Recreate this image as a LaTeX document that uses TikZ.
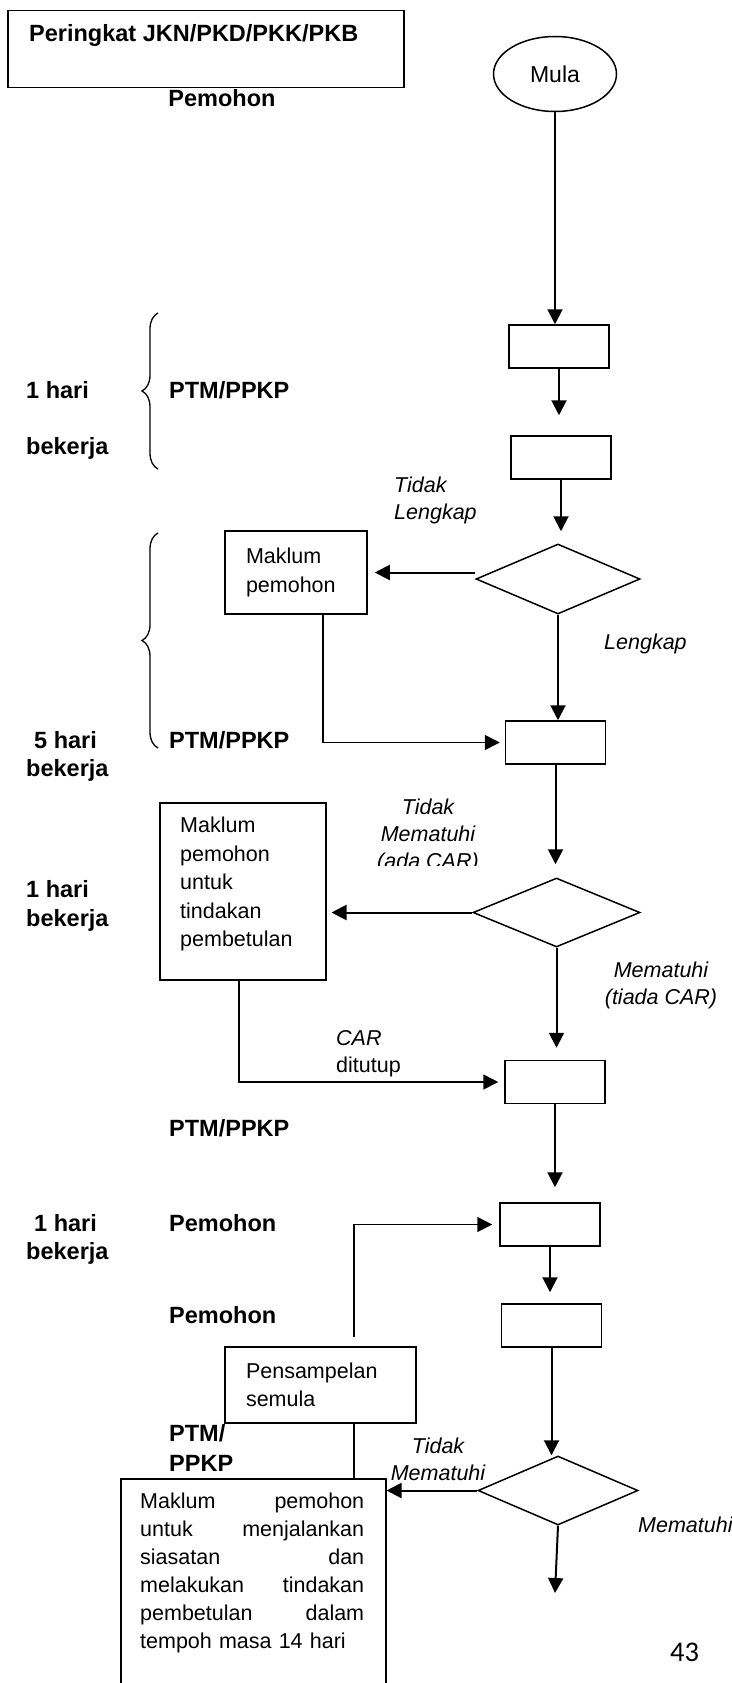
\documentclass[tikz,border=0pt]{standalone}
\usepackage{fontspec}
\setmainfont{Liberation Sans}
\newfontfamily\pagefont{Carlito}
\usetikzlibrary{arrows.meta,shapes.geometric,decorations.pathreplacing}

\begin{document}
\begin{tikzpicture}[x=1pt,y=-1pt,
    kotak/.style={draw,line width=1.5pt,inner sep=0pt},
    langkah/.style={kotak,minimum width=100pt,minimum height=43pt},
    semak/.style={kotak,diamond,aspect=2.3,minimum width=164pt,minimum height=70pt},
    teks/.style={kotak,align=left,inner xsep=21pt,font=\fontsize{21.5}{28.5}\selectfont},
    miring/.style={font=\fontsize{21.5}{27}\selectfont\itshape,inner sep=0pt},
    tebal/.style={font=\fontsize{23.5}{30}\selectfont\bfseries,inner sep=0pt,anchor=west},
    anak/.style={-{Triangle[length=15pt,width=15pt]},line width=2pt},
    garis/.style={line width=1.5pt},
    kurung/.style={decorate,decoration={brace,amplitude=16pt},line width=1.3pt}]
    \clip (0,0) rectangle (731,1683);
    \node[kotak,anchor=north west,minimum width=396pt,minimum height=77pt] (tajuk) at (7,10) {};
    \node[tebal] (tajukteks) at (29,35) {Peringkat JKN/PKD/PKK/PKB};
    \node[tebal,anchor=center] (pemohonA) at (222,98) {Pemohon};
    \node[kotak,ellipse,minimum width=123pt,minimum height=75pt,font=\fontsize{23}{26}\selectfont] (mula) at (555,74) {Mula};
    \node[langkah] (langkahA) at (559,346.5) {};
    \node[langkah] (langkahB) at (561,457.5) {};
    \node[semak] (semakA) at (558,579) {};
    \node[langkah] (langkahC) at (555.5,742.5) {};
    \node[semak,minimum width=167pt,minimum height=69pt] (semakB) at (556.5,912.5) {};
    \node[langkah] (langkahD) at (555,1082) {};
    \node[langkah] (langkahE) at (550,1224.5) {};
    \node[langkah] (langkahF) at (551.5,1325.5) {};
    \node[semak,minimum width=160pt,minimum height=69pt] (semakC) at (558,1490.5) {};
    \coordinate (akhir) at (555,1593);
    \node[teks,minimum width=142pt,minimum height=83pt,text width=100pt] (maklumA) at (296,572.5) {Maklum\\pemohon};
    \node[kotak,anchor=north west,minimum width=166pt,minimum height=177pt] (maklumB) at (159,802) {};
    \node[anchor=north west,inner sep=0pt,text width=124pt,align=left,font=\fontsize{21.5}{28.5}\selectfont] (maklumBteks) at (180,817) {Maklum\\pemohon\\untuk\\tindakan\\pembetulan};
    \node[teks,minimum width=191pt,minimum height=76pt,text width=149pt] (pensampelan) at (320.5,1385) {Pensampelan\\semula};
    \node[kotak,anchor=north west,minimum width=265pt,minimum height=240pt] (maklumC) at (120,1478) {};
    \node[anchor=north west,inner sep=0pt,text width=224pt,align=left,font=\fontsize{21.5}{28}\selectfont] (maklumCteks) at (140,1493) {Maklum\hfill pemohon\\untuk\hfill menjalankan\\siasatan\hfill dan\\melakukan\hfill tindakan\\pembetulan\hfill dalam\\tempoh masa 14 hari};
    \node[tebal] (hariA) at (26,390) {1 hari};
    \node[tebal] (kerjaA) at (26,448) {bekerja};
    \node[tebal] (ptmA) at (169,390) {PTM/PPKP};
    \draw[kurung] (158,469) -- (158,313);
    \node[tebal] (hariB) at (34,740) {5 hari};
    \node[tebal] (kerjaB) at (26,770) {bekerja};
    \node[tebal] (ptmB) at (169,740) {PTM/PPKP};
    \draw[kurung] (158,748) -- (158,533);
    \node[tebal] (hariC) at (26,889) {1 hari};
    \node[tebal] (kerjaC) at (26,920) {bekerja};
    \node[tebal] (ptmC) at (169,1128) {PTM/PPKP};
    \node[tebal] (hariD) at (34,1223) {1 hari};
    \node[tebal] (kerjaD) at (26,1253) {bekerja};
    \node[tebal] (pemohonB) at (169,1223) {Pemohon};
    \node[tebal] (pemohonC) at (169,1315) {Pemohon};
    \node[tebal,align=left] (ptmD) at (169,1447.5) {PTM/\\PPKP};
    \node[miring,align=left,anchor=west] (tidakA) at (394,500) {Tidak\\Lengkap};
    \node[miring,anchor=west] (lengkap) at (604,644) {Lengkap};
    \begin{scope}
        \clip (360,780) rectangle (500,865);
        \node[miring,align=center] (tidakB) at (428,836) {Tidak\\Mematuhi\\(ada CAR)};
    \end{scope}
    \node[miring,align=center] (patuhB) at (661,985) {Mematuhi\\(tiada CAR)};
    \node[miring,align=left,anchor=west] (tutup) at (336,1054) {CAR\\\upshape ditutup};
    \node[miring,align=center] (tidakC) at (438,1459) {Tidak\\Mematuhi};
    \node[miring,anchor=west] (patuhC) at (638,1525) {Mematuhi};
    \node[font=\pagefont\fontsize{28.5}{30}\selectfont,inner sep=0pt] (muka) at (684.5,1652) {43};
    \draw[anak] (mula.south) -- (mula.south |- langkahA.north);
    \draw[anak,shorten >=20pt] (langkahA.south) -- (langkahA.south |- langkahB.north);
    \draw[anak,shorten >=12pt] (langkahB.south) -- (langkahB.south |- semakA.north);
    \draw[anak] (semakA.south) -- (semakA.south |- langkahC.north);
    \draw[anak,shorten >=7pt] (maklumA.east -| semakA.west) -- (maklumA.east);
    \draw[anak,garis,shorten >=5pt] ([xshift=27pt]maklumA.south) |- (langkahC.west);
    \draw[anak,shorten >=13pt] (langkahC.south) -- (langkahC.south |- semakB.north);
    \draw[anak,shorten >=5pt] (semakB.west) -- (semakB.west -| maklumB.east);
    \draw[anak,shorten >=12pt] (semakB.south) -- (semakB.south |- langkahD.north);
    \draw[anak,garis,shorten >=6pt] ([xshift=-4pt]maklumB.south) |- (langkahD.west);
    \draw[anak,shorten >=15pt] (langkahD.south) -- (langkahD.south |- langkahE.north);
    \draw[anak,shorten >=11pt] (langkahE.south) -- (langkahE.south |- langkahF.north);
    \draw[anak] (langkahF.south) -- (langkahF.south |- semakC.north);
    \draw[anak] (semakC.south) -- (akhir);
    \draw[anak] (semakC.west) -- (semakC.west -| maklumC.east);
    \draw[garis] ([xshift=33.5pt]pensampelan.south) -- ([xshift=33.5pt]pensampelan.south |- maklumC.north);
    \draw[anak,garis,shorten <=9pt,shorten >=7pt] ([xshift=33.5pt]pensampelan.north) |- (langkahE.west);
\end{tikzpicture}
\end{document}
